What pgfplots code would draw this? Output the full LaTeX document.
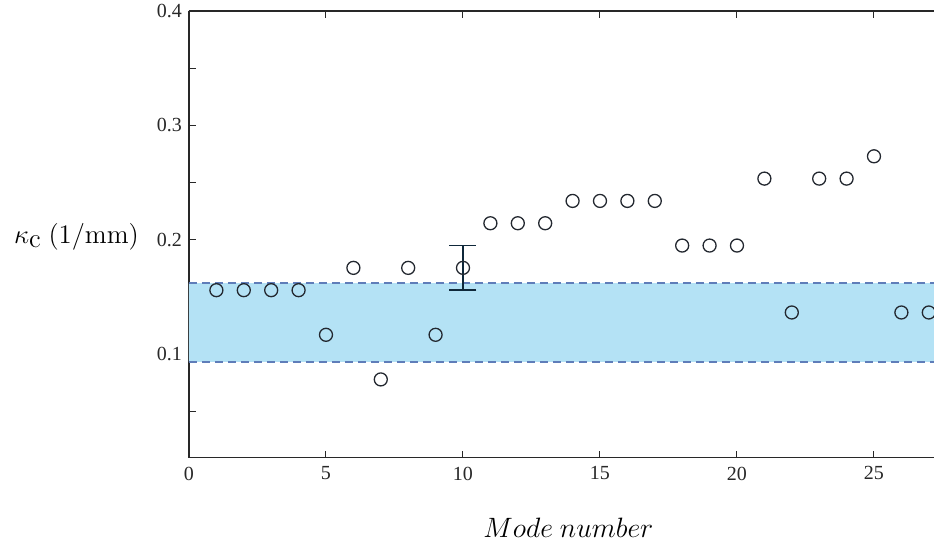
\RequirePackage{fix-cm}
\documentclass[border=0pt]{standalone}
\usepackage[no-math]{fontspec}
\setmainfont{Liberation Serif}
\usepackage{pgfplots}
\pgfplotsset{compat=1.18}
\definecolor{bandfill}{RGB}{180,226,245}
\definecolor{banddash}{RGB}{95,125,185}
\definecolor{markc}{RGB}{35,40,48}
\definecolor{errc}{RGB}{15,40,58}
\definecolor{axc}{RGB}{40,40,40}
\begin{document}
\begin{tikzpicture}
\begin{axis}[
  scale only axis,
  width=372.5pt, height=223.35pt,
  xmin=0, xmax=27.19,
  ymin=0.0096, ymax=0.4,
  axis x line=box, axis y line=left,
  y axis line style={-},
  axis line style={draw=axc, line width=0.6pt},
  xtick={0,5,10,15,20,25},
  ytick={0.1,0.2,0.3,0.4},
  minor ytick={0.05,0.15,0.25,0.35},
  tick align=inside,
  major tick length=3.5pt, minor tick length=3.5pt,
  tick style={draw=axc, line width=0.5pt},
  /pgf/number format/assume math mode=true,
  yticklabel style={/pgf/number format/fixed, /pgf/number format/precision=1},
  ticklabel style={font=\fontsize{10}{12}\selectfont, text=axc},
  xticklabel style={yshift=-1pt},
  scaled y ticks=false,
  clip=false,
  every axis y label/.style={at={(axis description cs:0,0.4951)}, anchor=east, xshift=-21.5pt},
  ylabel={\fontsize{13.4}{15}\selectfont $\kappa_{\textstyle\mathrm{c}}\ (1/\mathrm{mm})$},
  every axis x label/.style={at={(axis description cs:0.5094,0)}, anchor=base, yshift=-40.15pt},
  xlabel={\fontsize{14}{16}\selectfont $Mode\ number$},
]
\coordinate (bl) at (rel axis cs:0,0);
\coordinate (tr) at (rel axis cs:1,1);
\addplot[fill=bandfill, draw=none, forget plot] coordinates {(0,0.0933) (27.19,0.0933) (27.19,0.1621) (0,0.1621) (0,0.0933)};
\addplot[banddash, line width=0.75pt, dash pattern=on 4pt off 2.5pt, forget plot] coordinates {(0,0.0933) (27.19,0.0933)};
\addplot[banddash, line width=0.75pt, dash pattern=on 4pt off 2.5pt, forget plot] coordinates {(0,0.1621) (27.19,0.1621)};
\addplot[errc, line width=0.9pt, mark=none,
  error bars/.cd, y dir=both, y explicit,
  error bar style={line width=0.9pt, errc},
  error mark options={rotate=90, mark size=6.75pt, line width=0.9pt, errc}]
  coordinates {(10,0.1755) +- (0,0.0195)};
\addplot[only marks, mark=o, mark size=3.25pt, mark options={draw=markc, line width=0.65pt}] coordinates {
(1,0.156) (2,0.156) (3,0.156) (4,0.156) (5,0.117) (6,0.1755) (7,0.078) (8,0.1755) (9,0.117)
(10,0.1755) (11,0.2145) (12,0.2145) (13,0.2145) (14,0.234) (15,0.234) (16,0.234) (17,0.234)
(18,0.195) (19,0.195) (20,0.195) (21,0.2535) (22,0.1365) (23,0.2535) (24,0.2535) (25,0.273)
(26,0.1365) (27,0.1365)};
\end{axis}
\pgfresetboundingbox
\path[use as bounding box] ([shift={(-94.5pt,-43.15pt)}]bl) rectangle ([shift={(0pt,5.5pt)}]tr);
\end{tikzpicture}
\end{document}
